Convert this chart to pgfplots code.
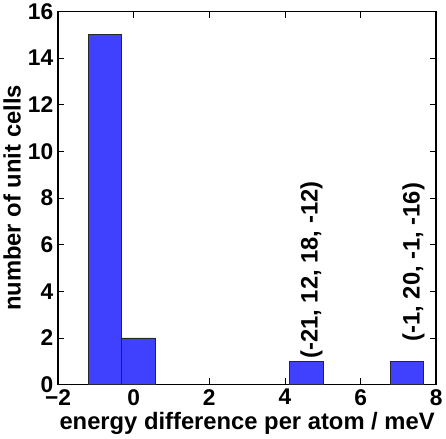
\documentclass[border=0pt]{standalone}
\usepackage{pgfplots}
\pgfplotsset{compat=1.18}
\usepackage{fontspec}
\setmainfont{Liberation Sans}
\definecolor{barblue}{RGB}{64,64,255}
\definecolor{baredge}{RGB}{40,40,40}
\begin{document}
\begin{tikzpicture}
\begin{axis}[
  scale only axis,
  width=366pt, height=361pt,
  xmin=-2, xmax=8, ymin=0, ymax=16,
  xtick={-2,0,2,4,6,8},
  xticklabels={−2,0,2,4,6,8},
  ytick={0,2,4,6,8,10,12,14,16},
  minor tick num=0,
  tick align=inside,
  major tick length=6pt,
  tick style={black, line width=0.8pt},
  axis line style={black, line width=1.6pt},
  every tick label/.append style={font=\fontsize{22}{24}\selectfont\bfseries},
  /pgf/number format/assume math mode=true,
  xticklabel style={yshift=-1pt},
  yticklabel style={xshift=-1pt},
  xlabel={energy difference per atom / meV},
  ylabel={number of unit cells},
  xlabel style={font=\fontsize{23}{26}\selectfont\bfseries},
  ylabel style={font=\fontsize{23}{26}\selectfont\bfseries},
  clip=false,
]
\addplot[ybar interval, fill=barblue, draw=baredge, line width=0.8pt]
  coordinates {(-1.2,15) (-0.313,2) (0.574,0)};
\addplot[ybar interval, fill=barblue, draw=baredge, line width=0.8pt]
  coordinates {(4.122,1) (5.009,1)};
\addplot[ybar interval, fill=barblue, draw=baredge, line width=0.8pt]
  coordinates {(6.783,1) (7.67,1)};
\node[rotate=90, anchor=west, inner sep=0pt, font=\fontsize{23}{26}\selectfont\bfseries]
  at (axis cs:4.70,1.108) {(-21, 12, 18, -12)};
\node[rotate=90, anchor=west, inner sep=0pt, font=\fontsize{23}{26}\selectfont\bfseries]
  at (axis cs:7.40,1.843) {(-1, 20, -1, -16)};
\end{axis}
\end{tikzpicture}
\end{document}
